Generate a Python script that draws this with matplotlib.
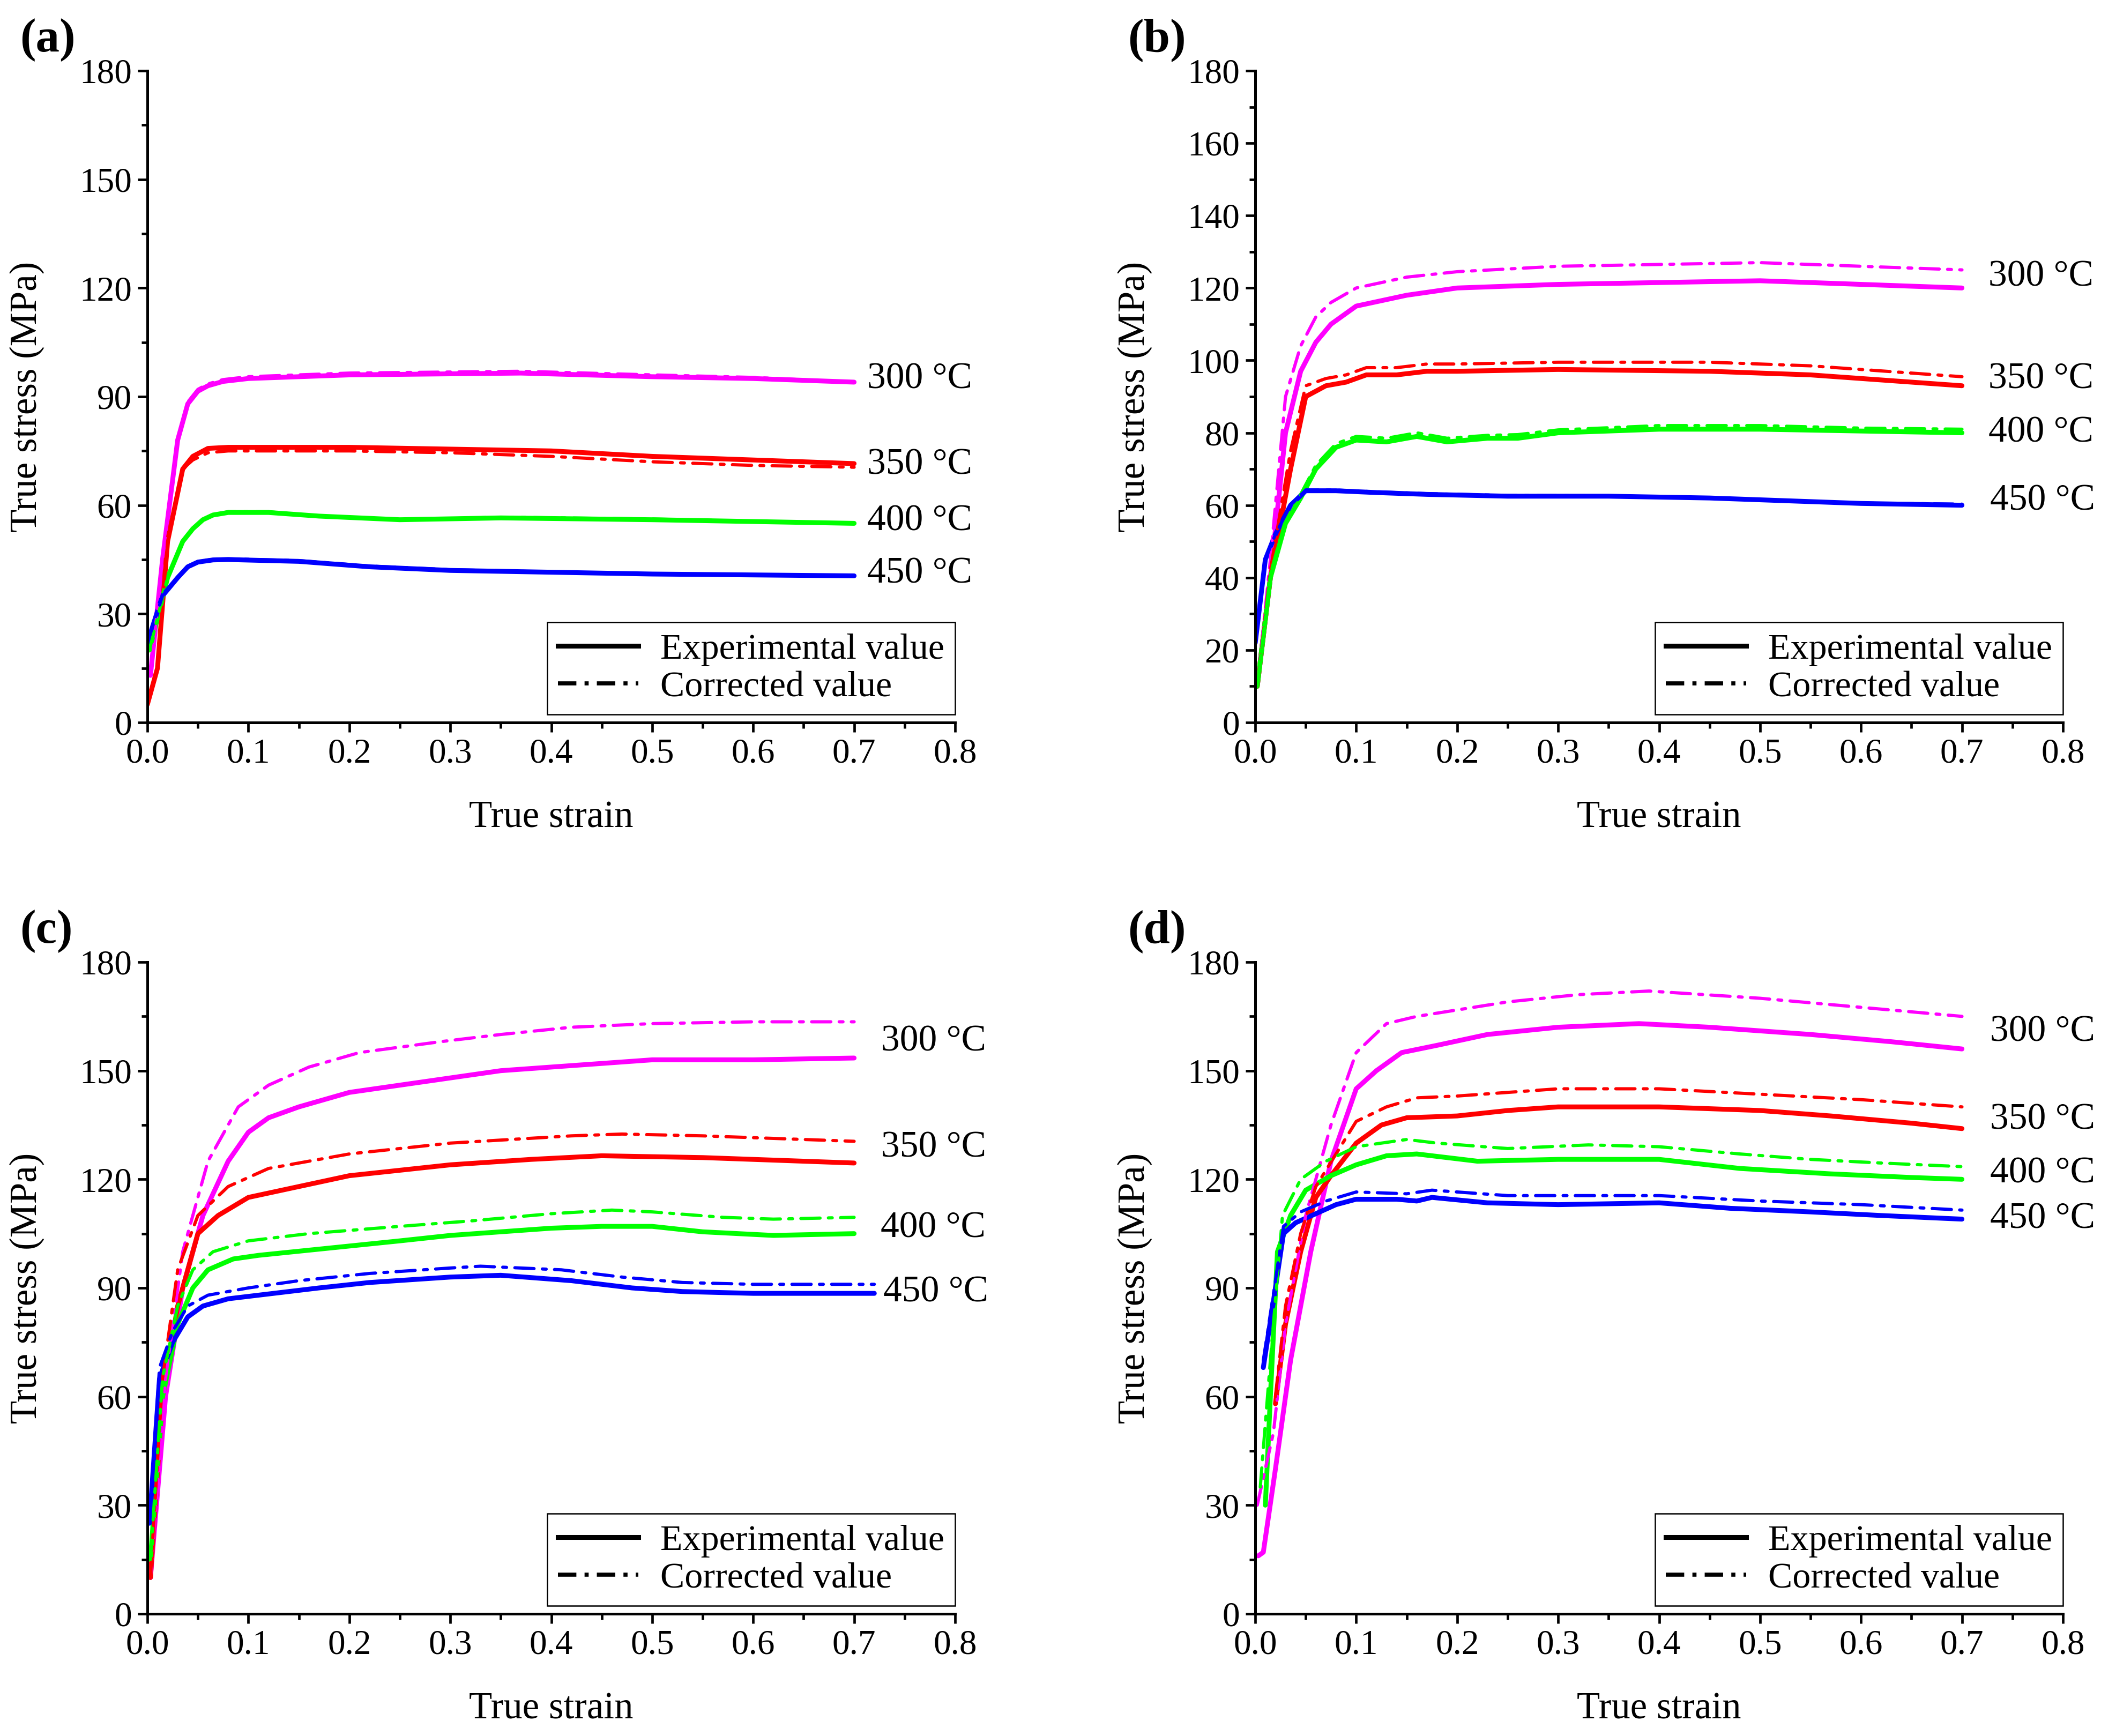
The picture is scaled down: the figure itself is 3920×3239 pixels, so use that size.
import matplotlib
matplotlib.use('Agg')
import matplotlib.pyplot as plt
from matplotlib.ticker import MultipleLocator
from matplotlib.lines import Line2D

plt.rcParams['font.family'] = ['Liberation Serif', 'DejaVu Serif']

temps = ['300 °C', '350 °C', '400 °C', '450 °C']
colors = ['#FF00FF', '#FF0000', '#00FF00', '#0000FF']

# ---- panel (a) ----
a300_x = [0.003, 0.015, 0.03, 0.04, 0.05, 0.06, 0.075, 0.1, 0.2, 0.37, 0.5, 0.6, 0.7]
a300_exp = [13, 45, 78, 88, 91.5, 93, 94.2, 95, 96, 96.5, 95.5, 95, 94]
a300_cor = [13, 45, 78, 88.5, 92, 93.5, 94.7, 95.5, 96.5, 97, 96, 95.3, 94]
a350_x = [0.0, 0.01, 0.02, 0.035, 0.045, 0.06, 0.08, 0.2, 0.3, 0.4, 0.5, 0.6, 0.7]
a350_exp = [5, 15, 50, 70, 73.5, 75.7, 76, 76, 75.5, 75, 73.5, 72.5, 71.5]
a350_cor = [5, 15, 50, 70, 72.5, 74.5, 75, 75, 74.5, 73.5, 72, 71, 70.5]
a400_x = [0.002, 0.02, 0.035, 0.045, 0.055, 0.065, 0.08, 0.12, 0.17, 0.25, 0.35, 0.5, 0.7]
a400_exp = [20, 40, 50, 53.5, 56, 57.3, 58, 58, 57, 56, 56.5, 56, 55]
a400_cor = [20, 40, 50, 53.5, 56, 57.4, 58.2, 58.2, 57, 56, 56.7, 56.2, 55]
a450_x = [0.0, 0.015, 0.03, 0.04, 0.05, 0.065, 0.08, 0.15, 0.22, 0.3, 0.4, 0.5, 0.7]
a450_exp = [22, 35, 40, 43, 44.3, 44.9, 45, 44.5, 43, 42, 41.5, 41, 40.5]
a450_cor = [22, 35, 40, 43, 44.4, 45.1, 45.2, 44.7, 43.2, 42.2, 41.6, 41.1, 40.6]

# ---- panel (b) ----
b300_x = [0.002, 0.015, 0.03, 0.045, 0.06, 0.075, 0.1, 0.15, 0.2, 0.3, 0.5, 0.6, 0.7]
b300_exp = [10, 40, 80, 97, 105, 110, 115, 118, 120, 121, 122, 121, 120]
b300_cor = [10, 45, 90, 104, 112, 116, 120, 123, 124.5, 126, 127, 126, 125]
b350_x = [0.002, 0.015, 0.035, 0.05, 0.07, 0.09, 0.11, 0.14, 0.17, 0.2, 0.3, 0.45, 0.55, 0.65, 0.7]
b350_exp = [10, 40, 70, 90, 93, 94, 96, 96, 97, 97, 97.5, 97, 96, 94, 93]
b350_cor = [10, 42, 75, 93, 95, 96, 98, 98, 99, 99, 99.5, 99.5, 98.5, 96.5, 95.5]
b400_x = [0.002, 0.015, 0.03, 0.045, 0.06, 0.08, 0.1, 0.13, 0.16, 0.19, 0.23, 0.26, 0.3, 0.4, 0.5, 0.6, 0.7]
b400_exp = [10, 40, 55, 62, 70, 76, 78, 77.5, 79, 77.5, 78.5, 78.5, 80, 81, 81, 80.5, 80]
b400_cor = [10, 41, 56, 63, 71, 77, 79, 78.5, 80, 78.5, 79.3, 79.5, 80.8, 82, 82, 81.3, 81]
b450_x = [0.0, 0.01, 0.02, 0.035, 0.05, 0.08, 0.12, 0.17, 0.25, 0.35, 0.45, 0.5, 0.55, 0.6, 0.7]
b450_exp = [22, 45, 52, 60, 64, 64, 63.5, 63, 62.5, 62.5, 62, 61.5, 61, 60.5, 60]
b450_cor = [22, 45, 52, 60, 64.2, 64.2, 63.7, 63.2, 62.7, 62.6, 62.1, 61.6, 61.1, 60.6, 60.3]

# ---- panel (c) ----
c300_x = [0.003, 0.018, 0.035, 0.055, 0.08, 0.1, 0.12, 0.15, 0.2, 0.3, 0.35, 0.45, 0.5, 0.6, 0.7]
c300_exp = [10, 60, 90, 110, 125, 133, 137, 140, 144, 148, 150, 152, 153, 153, 153.5]
c300_x2 = [0.003, 0.018, 0.035, 0.06, 0.09, 0.12, 0.16, 0.21, 0.29, 0.35, 0.42, 0.5, 0.6, 0.7]
c300_cor = [10, 65, 100, 125, 140, 146, 151, 155, 158, 160, 162, 163, 163.5, 163.5]
c350_x = [0.003, 0.015, 0.03, 0.05, 0.07, 0.1, 0.15, 0.2, 0.3, 0.38, 0.45, 0.55, 0.65, 0.7]
c350_exp = [10, 60, 85, 105, 110, 115, 118, 121, 124, 125.5, 126.5, 126, 125, 124.5]
c350_x2 = [0.003, 0.015, 0.03, 0.05, 0.08, 0.12, 0.2, 0.3, 0.42, 0.47, 0.55, 0.65, 0.7]
c350_cor = [10, 65, 95, 110, 118, 123, 127, 130, 132, 132.5, 132, 131, 130.5]
c400_x = [0.003, 0.015, 0.03, 0.045, 0.06, 0.085, 0.11, 0.18, 0.25, 0.3, 0.35, 0.4, 0.45, 0.5, 0.55, 0.62, 0.7]
c400_exp = [15, 60, 80, 90, 95, 98, 99, 101, 103, 104.5, 105.5, 106.5, 107, 107, 105.5, 104.5, 105]
c400_x2 = [0.003, 0.015, 0.03, 0.045, 0.065, 0.1, 0.16, 0.25, 0.32, 0.4, 0.46, 0.5, 0.57, 0.62, 0.7]
c400_cor = [15, 65, 85, 95, 100, 103, 105, 107, 108.5, 110.5, 111.5, 111, 109.5, 109, 109.5]
c450_x = [0.002, 0.012, 0.025, 0.04, 0.055, 0.08, 0.11, 0.17, 0.22, 0.3, 0.35, 0.42, 0.48, 0.53, 0.6, 0.72]
c450_exp = [25, 65, 75, 82, 85, 87, 88, 90, 91.5, 93, 93.5, 92, 90, 89, 88.5, 88.5]
c450_x2 = [0.002, 0.012, 0.025, 0.04, 0.06, 0.1, 0.15, 0.22, 0.3, 0.33, 0.41, 0.47, 0.53, 0.6, 0.72]
c450_cor = [25, 68, 78, 85, 88, 90, 92, 94, 95.5, 96, 95, 93, 91.5, 91, 91]

# ---- panel (d) ----
d300_x = [0.003, 0.008, 0.02, 0.035, 0.055, 0.075, 0.1, 0.12, 0.145, 0.18, 0.23, 0.3, 0.38, 0.45, 0.55, 0.63, 0.7]
d300_exp = [16, 17, 40, 70, 100, 125, 145, 150, 155, 157, 160, 162, 163, 162, 160, 158, 156]
d300_x2 = [0.002, 0.018, 0.03, 0.05, 0.075, 0.1, 0.13, 0.16, 0.25, 0.32, 0.39, 0.5, 0.6, 0.7]
d300_cor = [30, 50, 80, 110, 135, 155, 163, 165, 169, 171, 172, 170, 167.5, 165]
d350_x = [0.02, 0.03, 0.045, 0.06, 0.075, 0.1, 0.125, 0.15, 0.2, 0.25, 0.3, 0.4, 0.5, 0.57, 0.65, 0.7]
d350_exp = [58, 80, 100, 115, 121, 130, 135, 137, 137.5, 139, 140, 140, 139, 137.5, 135.5, 134]
d350_x2 = [0.02, 0.03, 0.045, 0.06, 0.08, 0.1, 0.13, 0.16, 0.2, 0.3, 0.4, 0.5, 0.6, 0.7]
d350_cor = [60, 85, 105, 118, 127, 136, 140, 142.5, 143, 145, 145, 143.5, 142, 140]
d400_x = [0.01, 0.015, 0.022, 0.035, 0.05, 0.075, 0.1, 0.13, 0.16, 0.22, 0.3, 0.4, 0.48, 0.57, 0.65, 0.7]
d400_exp = [30, 60, 100, 110, 117, 121, 124, 126.5, 127, 125, 125.5, 125.5, 123, 121.5, 120.5, 120]
d400_x2 = [0.005, 0.015, 0.027, 0.045, 0.07, 0.1, 0.15, 0.18, 0.25, 0.33, 0.4, 0.48, 0.55, 0.62, 0.7]
d400_cor = [35, 70, 110, 120, 125, 129, 131, 130, 128.5, 129.5, 129, 127, 125.5, 124.5, 123.5]
d450_x = [0.008, 0.02, 0.028, 0.04, 0.06, 0.08, 0.1, 0.14, 0.16, 0.175, 0.23, 0.3, 0.4, 0.47, 0.55, 0.62, 0.7]
d450_exp = [68, 90, 105, 108, 110.5, 113, 114.5, 114.5, 114, 115, 113.5, 113, 113.5, 112, 111, 110, 109]
d450_x2 = [0.008, 0.02, 0.028, 0.045, 0.07, 0.1, 0.15, 0.175, 0.25, 0.4, 0.5, 0.6, 0.7]
d450_cor = [70, 92, 107, 111, 114, 116.5, 116, 117, 115.5, 115.5, 114, 113, 111.5]

panels = [
    ('(a)', [(a300_x, a300_exp, a300_x, a300_cor), (a350_x, a350_exp, a350_x, a350_cor),
             (a400_x, a400_exp, a400_x, a400_cor), (a450_x, a450_exp, a450_x, a450_cor)],
     30, 15, [(0.713, 94.8), (0.713, 71.1), (0.713, 55.6), (0.713, 41.1)]),
    ('(b)', [(b300_x, b300_exp, b300_x, b300_cor), (b350_x, b350_exp, b350_x, b350_cor),
             (b400_x, b400_exp, b400_x, b400_cor), (b450_x, b450_exp, b450_x, b450_cor)],
     20, 10, [(0.726, 123), (0.726, 94.8), (0.726, 80), (0.728, 61.1)]),
    ('(c)', [(c300_x, c300_exp, c300_x2, c300_cor), (c350_x, c350_exp, c350_x2, c350_cor),
             (c400_x, c400_exp, c400_x2, c400_cor), (c450_x, c450_exp, c450_x2, c450_cor)],
     30, 15, [(0.727, 158), (0.727, 128.6), (0.726, 106.4), (0.729, 88.7)]),
    ('(d)', [(d300_x, d300_exp, d300_x2, d300_cor), (d350_x, d350_exp, d350_x2, d350_cor),
             (d400_x, d400_exp, d400_x2, d400_cor), (d450_x, d450_exp, d450_x2, d450_cor)],
     30, 15, [(0.728, 160.7), (0.728, 136.4), (0.728, 121.6), (0.728, 109)]),
]

W, H = 3920, 3239
fig = plt.figure(figsize=(W / 100, H / 100), dpi=100)

boxes = [(275, 132), (2342, 132), (275, 1795), (2342, 1795)]
ax_w, ax_h = 1507, 1216
dash = (0, (6, 2.6, 1.2, 2.6))

for (label, curves, major, minor, lab_pos), (px, py) in zip(panels, boxes):
    ax = fig.add_axes([px / W, 1 - (py + ax_h) / H, ax_w / W, ax_h / H])
    for (xe, ye, xc, yc), c in zip(curves, colors):
        ax.plot(xe, ye, color=c, lw=6.5, solid_capstyle='round', solid_joinstyle='round')
    for (xe, ye, xc, yc), c in zip(curves, colors):
        ax.plot(xc, yc, color=c, lw=4.3, linestyle=dash, dash_capstyle='round')
    for t, (tx, ty) in zip(temps, lab_pos):
        ax.text(tx, ty, t, fontsize=50, va='center', ha='left', clip_on=False)

    ax.set_xlim(0, 0.8)
    ax.set_ylim(0, 180)
    ax.xaxis.set_major_locator(MultipleLocator(0.1))
    ax.xaxis.set_minor_locator(MultipleLocator(0.05))
    ax.yaxis.set_major_locator(MultipleLocator(major))
    ax.yaxis.set_minor_locator(MultipleLocator(minor))
    ax.xaxis.set_major_formatter(plt.FuncFormatter(lambda v, p: f'{v:.1f}'))
    for s in ['top', 'right']:
        ax.spines[s].set_visible(False)
    for s in ['left', 'bottom']:
        ax.spines[s].set_linewidth(3.6)
    ax.tick_params(which='major', direction='out', length=13, width=3.4, labelsize=47, pad=8)
    ax.tick_params(which='minor', direction='out', length=8, width=3.4)
    ax.set_xlabel('True strain', fontsize=51, va='center')
    ax.set_ylabel('True stress (MPa)', fontsize=51, va='center')
    ax.xaxis.set_label_coords(0.5, -0.146)
    ax.yaxis.set_label_coords(-0.149, 0.5)

    handles = [Line2D([], [], color='black', lw=6.5),
               Line2D([], [], color='black', lw=5.5, linestyle=(0, (4.5, 2, 1, 2)))]
    leg = ax.legend(handles, ['Experimental value', 'Corrected value'], loc='lower right',
                    bbox_to_anchor=(1.0, 0.012), borderaxespad=0, fontsize=49,
                    fancybox=False, handlelength=2.2, handletextpad=0.6,
                    borderpad=0.3, labelspacing=0.12, framealpha=1)
    leg.get_frame().set_edgecolor('black')
    leg.get_frame().set_linewidth(1.8)

    fig.text((px - 238) / W, 1 - (py - 57) / H, label, fontsize=64, fontweight='bold',
             va='center', ha='left')

fig.savefig('out.png', dpi=100)
